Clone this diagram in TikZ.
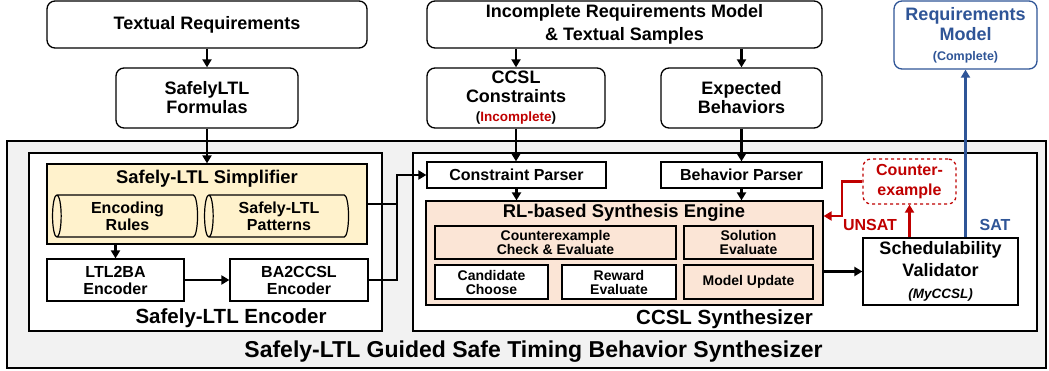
\documentclass[tikz,border=0pt]{standalone}
\usepackage{fontspec}
\setmainfont{Liberation Sans}
\usetikzlibrary{arrows.meta,positioning,shapes.geometric}
\definecolor{mygray}{HTML}{F2F2F2}
\definecolor{myyellow}{HTML}{FFF2CC}
\definecolor{mypeach}{HTML}{FBE5D6}
\definecolor{myred}{HTML}{C00000}
\definecolor{myblue}{HTML}{2F5597}
\newcommand{\sz}[2]{\fontsize{#1}{#2}\selectfont\bfseries}

\begin{document}
\begin{tikzpicture}[x=1pt,y=-1pt]
    \tikzstyle{every node}=[inner sep=0pt,align=center]
    \tikzstyle{topbox}=[draw,rounded corners=8pt,line width=1.3pt,fill=white]
    \tikzstyle{inbox}=[draw,line width=1.2pt]
    \tikzstyle{bigbox}=[draw,line width=2pt,fill=white]
    \tikzstyle{drum}=[draw,cylinder,shape border rotate=180,aspect=0.3,
                      line width=1.2pt,fill=myyellow]
    \tikzstyle{arr}=[line width=2.6pt,-{Triangle[length=8pt,width=9pt]}]
    \tikzstyle{ln}=[line width=2.6pt]

    \useasboundingbox (0,0) rectangle (1049,371);

    % inputs and output on top
    \node[topbox,minimum width=320,minimum height=47,font=\sz{18}{20}] (txtreq)
        at (207,24.5) {Textual Requirements};
    \node[topbox,minimum width=182,minimum height=60,font=\sz{18}{19}] (formulas)
        at (207,98) {SafelyLTL\\Formulas};
    \node[topbox,minimum width=395,minimum height=47,font=\sz{18}{23}] (increq)
        at (624.5,24.5) {Incomplete Requirements Model\\\& Textual Samples};
    \node[topbox,minimum width=178,minimum height=60,font=\sz{18}{19}] (ccslc)
        at (516,98) {CCSL\\Constraints\\{\sz{13.5}{16}(\textcolor{myred}{Incomplete})}};
    \node[topbox,minimum width=161,minimum height=60,font=\sz{18}{19}] (expb)
        at (741.5,98) {Expected\\Behaviors};
    \node[topbox,draw=myblue,text=myblue,minimum width=143,minimum height=68,
          font=\sz{18}{20}] (reqm)
        at (965.5,35) {Requirements\\Model\\{\sz{12.5}{16}(Complete)}};

    % the whole synthesizer
    \node[draw,fill=mygray,line width=1.5pt,minimum width=1039,minimum height=227]
        (frame) at (526.5,254.5) {};
    \node[font=\sz{23}{25},anchor=base] (title) at (533.5,357)
        {Safely-LTL Guided Safe Timing Behavior Synthesizer};

    % Safely-LTL encoder
    \node[bigbox,minimum width=353,minimum height=178] (enc) at (205.5,242) {};
    \node[font=\sz{20.5}{22},anchor=base] (encT) at (231,323) {Safely-LTL Encoder};
    \node[inbox,fill=myyellow,minimum width=320,minimum height=80] (simp)
        at (207,204) {};
    \node[font=\sz{18.4}{20},anchor=base] (simpT) at (207,184) {Safely-LTL Simplifier};
    \node[drum,minimum width=42,minimum height=145,font=\sz{16}{17}] (rules)
        at (127.5,216) {Encoding\\Rules};
    \node[drum,minimum width=42,minimum height=144,font=\sz{16}{17}] (patt)
        at (279,216) {Safely-LTL\\Patterns};
    \node[inbox,fill=white,minimum width=137,minimum height=42,font=\sz{16}{17}]
        (ltl2ba) at (115.5,280) {LTL2BA\\Encoder};
    \node[inbox,fill=white,minimum width=138,minimum height=42,font=\sz{16}{17}]
        (ba2ccsl) at (299,280) {BA2CCSL\\Encoder};

    % CCSL synthesizer
    \node[bigbox,minimum width=624,minimum height=178] (syn) at (725,242) {};
    \node[font=\sz{20.5}{22},anchor=base] (synT) at (724.5,324) {CCSL Synthesizer};
    \node[inbox,fill=white,minimum width=179,minimum height=26,font=\sz{16}{17}]
        (cparser) at (516.5,175) {Constraint Parser};
    \node[inbox,fill=white,minimum width=161,minimum height=26,font=\sz{16}{17}]
        (bparser) at (741.5,175) {Behavior Parser};
    \node[inbox,fill=mypeach,minimum width=397,minimum height=104] (engine)
        at (624.5,253) {};
    \node[font=\sz{18.4}{20},anchor=base] (engineT) at (624,218)
        {RL-based Synthesis Engine};
    \node[inbox,fill=mypeach,minimum width=241,minimum height=33,font=\sz{14}{14}]
        (cex) at (555.5,242.5) {Counterexample\\Check \& Evaluate};
    \node[inbox,fill=mypeach,minimum width=129,minimum height=33,font=\sz{14}{14}]
        (sol) at (748.5,242.5) {Solution\\Evaluate};
    \node[inbox,fill=white,minimum width=113,minimum height=34,font=\sz{14}{14}]
        (cand) at (491.5,282) {Candidate\\Choose};
    \node[inbox,fill=white,minimum width=114,minimum height=34,font=\sz{14}{14}]
        (rew) at (619,282) {Reward\\Evaluate};
    \node[inbox,fill=mypeach,minimum width=129,minimum height=34,font=\sz{14}{14}]
        (mupd) at (748.5,282) {Model Update};
    \node[inbox,fill=white,minimum width=155,minimum height=67,font=\sz{18}{22}]
        (valid) at (940.5,271.5)
        {Schedulability\\Validator\\{\sz{13.5}{17}\itshape (MyCCSL)}};
    \node[draw=myred,dashed,rounded corners=8pt,line width=1.3pt,fill=white,
          text=myred,minimum width=93,minimum height=45,font=\sz{16}{20}] (cexbox)
        at (909.5,181.5) {Counter-\\example};

    % connectors
    \draw[arr] (txtreq) -- (formulas);
    \draw[arr] (formulas) -- (simp);
    \draw[arr] (increq.south -| ccslc.north) -- (ccslc.north);
    \draw[arr] (increq.south -| expb.north) -- (expb.north);
    \draw[arr] (ccslc.south) -- (ccslc.south |- cparser.north);
    \draw[arr] (expb.south) -- (expb.south |- bparser.north);
    \draw[arr] (cparser.south) -- (cparser.south |- engine.north);
    \draw[arr] (bparser.south) -- (bparser.south |- engine.north);
    \draw[arr] (simp.south -| ltl2ba.north) -- (ltl2ba.north);
    \draw[arr] (ltl2ba) -- (ba2ccsl);
    \coordinate (jn) at (397,175);
    \draw[ln] (simp.east) -- (simp.east -| jn);
    \draw[arr] (ba2ccsl.east) -| (jn) -- (cparser.west);
    \draw[arr] (engine.east |- valid.west) -- (valid.west);
    \draw[arr,myred] (valid.north -| cexbox.south) -- (cexbox.south);
    \coordinate (cj) at (842,216);
    \draw[arr,myred] (cexbox.west) -| (cj) -- (cj -| engine.east);
    \draw[arr,myblue,line width=2.2pt] (reqm.south |- valid.north) -- (reqm.south);

    \node[font=\sz{16}{17},text=myred] (unsat) at (870,225) {UNSAT};
    \node[font=\sz{16}{17},text=myblue] (sat) at (995,225) {SAT};
\end{tikzpicture}
\end{document}
